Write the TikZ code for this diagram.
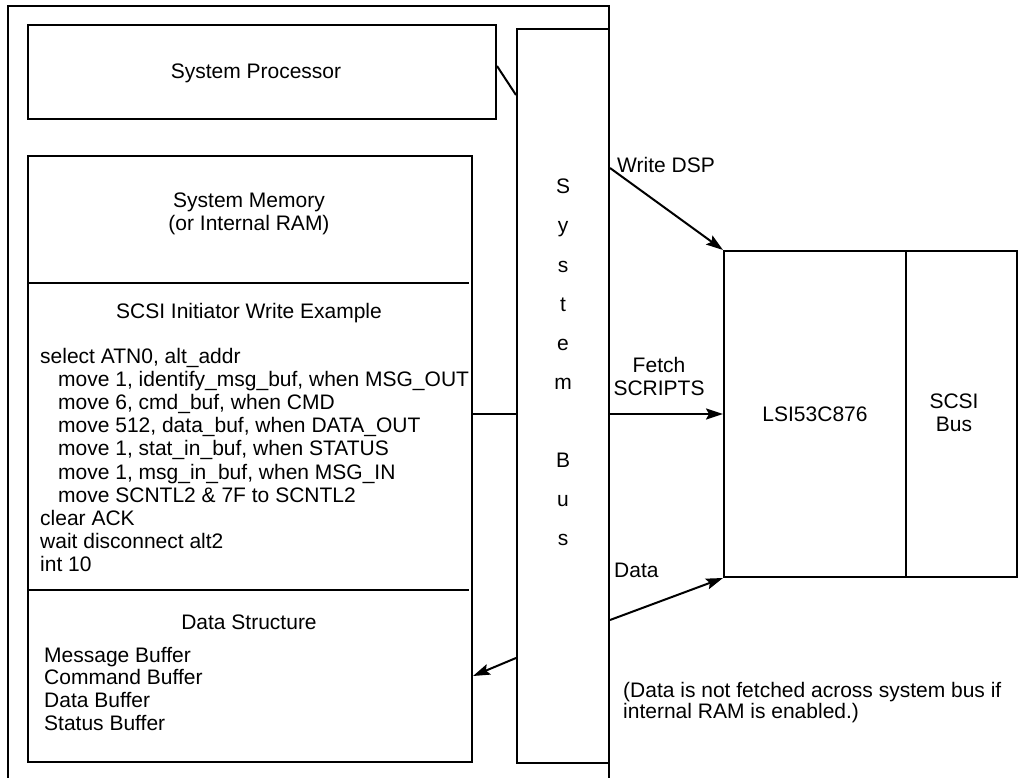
\documentclass[tikz,border=0pt]{standalone}
\usepackage{fontspec}
\setmainfont{Liberation Sans}
\usetikzlibrary{arrows.meta,calc}

\begin{document}
\begin{tikzpicture}[x=1pt,y=-1pt]
\tikzset{
	txt/.style = {font=\fontsize{21}{23}\selectfont, inner sep=0},
	box/.style = {draw, line width=2pt, inner sep=0, font=\fontsize{21}{23}\selectfont, align=center},
	link/.style = {line width=2pt, -{Stealth[length=17pt,width=11pt,inset=3pt]}},
}
\useasboundingbox (0,0) rectangle (1033,778);

% outer frame, open at the bottom
\draw[line width=2pt] (8,778) -- (8,6) -- (609,6) -- (609,778);

\node(proc)[box, minimum width=468, minimum height=94] at (262,72) {};
\node(proctxt)[txt] at (256,73) {System Processor};
\node(bus)[box, minimum width=92, minimum height=734] at (563,396) {};
\node(mem)[box, minimum width=444, minimum height=606] at (250,459) {};
\node(lsi)[box, minimum width=182, minimum height=326] at (815,414) {LSI53C876};
\node(scsi)[box, minimum width=111, minimum height=326] at (961.5,414) {};
\node(scsitxt)[txt, align=center] at (954,413) {SCSI\\Bus};

\foreach \l/\k in {S/0,y/1,s/2,t/3,e/4,m/5,B/7,u/8,s/9}
	\node(bus-\k)[txt, anchor=base] at (563,{194+39*\k}) {\l};

% memory contents
\node(memtitle)[txt, align=center] at (249,214) {System Memory\\(or Internal RAM)};
\draw[line width=2pt] (mem.west |- 0,283) -- ([xshift=-4pt]mem.east |- 0,283);
\node(scripttitle)[txt] at (249,313) {SCSI Initiator Write Example};
\foreach \x/\t [count=\i from 0] in {
	40/{select ATN0, alt\_addr},
	58/{move 1, identify\_msg\_buf, when MSG\_OUT},
	58/{move 6, cmd\_buf, when CMD},
	58/{move 512, data\_buf, when DATA\_OUT},
	58/{move 1, stat\_in\_buf, when STATUS},
	58/{move 1, msg\_in\_buf, when MSG\_IN},
	58/{move SCNTL2 \& 7F to SCNTL2},
	40/{clear ACK},
	40/{wait disconnect alt2},
	40/{int 10}}
	\node(code-\i)[txt, anchor=base west] at (\x,{363+23.2*\i}) {\t};
\draw[line width=2pt] (mem.west |- 0,590) -- ([xshift=-4pt]mem.east |- 0,590);
\node(datatitle)[txt] at (249,622) {Data Structure};
\foreach \t [count=\i from 0] in {Message Buffer,Command Buffer,Data Buffer,Status Buffer}
	\node(buf-\i)[txt, anchor=base west] at (44,{662+22.7*\i}) {\t};

% connections
\draw[line width=2pt] (proc.east |- 0,66) -- (bus.west |- 0,95);
\draw[line width=2pt] (mem.east |- lsi.west) -- (bus.west |- lsi.west);
\draw[link] (bus.west |- 0,658) -- (mem.east |- 0,676);
\draw[link] (bus.east |- 0,168) -- (lsi.north west);
\draw[link] (bus.east |- lsi.west) -- (lsi.west);
\draw[link] (bus.east |- 0,620) -- (lsi.south west);

\node(wlab)[txt, anchor=west] at (617,165) {Write DSP};
\node(flab)[txt, align=center] at (659,376) {Fetch\\SCRIPTS};
\node(dlab)[txt, anchor=west] at (614,570) {Data};
\node(note)[txt, align=left, anchor=west, font=\fontsize{21}{21}\selectfont] at (623,703)
	{(Data is not fetched across system bus if\\internal RAM is enabled.)};

\end{tikzpicture}
\end{document}
